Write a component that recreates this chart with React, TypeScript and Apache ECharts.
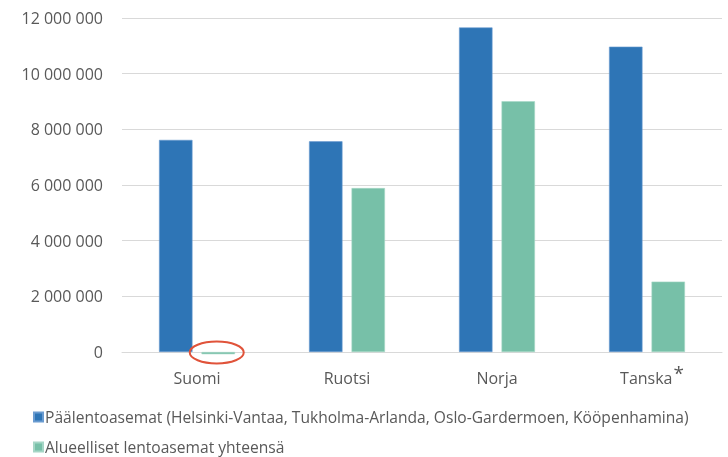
import React, { useEffect, useRef } from "react";
import * as echarts from "echarts";

const categories = ["Suomi", "Ruotsi", "Norja", "Tanska"];
const mainAirports = [7620000, 7570000, 11660000, 10970000];
const regionalAirports = [-80000, 5890000, 9010000, 2530000];
const seriesNames = [
  "Päälentoasemat (Helsinki-Vantaa, Tukholma-Arlanda, Oslo-Gardermoen, Kööpenhamina)",
  "Alueelliset lentoasemat yhteensä",
];
const yTicks = [0, 2000000, 4000000, 6000000, 8000000, 10000000, 12000000];

const FONT = "'Open Sans', 'Noto Sans', sans-serif";
const TEXT = "#595959";

const legendBase = {
  orient: "horizontal",
  left: 28,
  itemWidth: 9,
  itemHeight: 9,
  icon: "rect",
  textStyle: { color: TEXT, fontSize: 15.6, fontFamily: FONT, lineHeight: 18, padding: [0, 0, 0, -3] },
};

export default function App() {
  const ref = useRef<HTMLDivElement>(null);
  useEffect(() => {
    if (!ref.current) return;
    const chart = echarts.init(ref.current, null, { renderer: "svg" });
    chart.setOption({
      animation: false,
      textStyle: { fontFamily: FONT },
      grid: { left: 122, right: 6, top: 18, bottom: 105 },
      legend: [
        { ...legendBase, top: 403, data: [seriesNames[0]] },
        { ...legendBase, top: 433, data: [seriesNames[1]] },
      ],
      xAxis: {
        type: "category",
        data: categories,
        axisLine: { lineStyle: { color: "#d9d9d9", width: 1 } },
        axisTick: { show: false },
        axisLabel: {
          interval: 0,
          color: TEXT,
          fontSize: 16,
          fontFamily: FONT,
          lineHeight: 26,
          margin: 13,
          formatter: (v: string) => (v === "Tanska" ? "{pad|}" + v + "{sup|*}" : v),
          rich: {
            pad: { width: 10, lineHeight: 26 },
            sup: {
              fontSize: 19,
              lineHeight: 16,
              color: TEXT,
              fontFamily: FONT,
              padding: [0, 0, 10, 1],
            },
          },
        },
      },
      yAxis: {
        type: "value",
        min: yTicks[0],
        max: yTicks[yTicks.length - 1],
        interval: 2000000,
        axisLine: { show: false },
        axisTick: { show: false },
        splitLine: { lineStyle: { color: "#d9d9d9", width: 1 } },
        axisLabel: {
          color: TEXT,
          fontSize: 16,
          fontFamily: FONT,
          margin: 19,
          formatter: (v: number) =>
            String(Math.round(v)).replace(/\B(?=(\d{3})+(?!\d))/g, " "),
        },
      },
      series: [
        {
          name: seriesNames[0],
          type: "bar",
          data: mainAirports,
          barWidth: "22.3%",
          barGap: "27%",
          itemStyle: { color: "#2E75B6", borderColor: "#6a9bd0", borderWidth: 0.6 },
        },
        {
          name: seriesNames[1],
          type: "bar",
          data: regionalAirports,
          barWidth: "22.3%",
          clip: false,
          z: 3,
          itemStyle: { color: "#77C0A8", borderColor: "#a6d6c6", borderWidth: 0.6 },
        },
      ],
    });

    try {
      const data = (chart as any).getModel().getSeriesByIndex(1).getData();
      const lay = data.getItemLayout(0);
      const cx = lay.x + lay.width / 2 - 1.5;
      const zeroY = chart.convertToPixel({ yAxisIndex: 0 }, 0) as number;
      chart.setOption({
        graphic: [
          {
            type: "ellipse",
            shape: { cx, cy: zeroY + 0.5, rx: 27, ry: 11 },
            style: { fill: "none", stroke: "#E0533A", lineWidth: 2 },
            z: 100,
          },
        ],
      });
    } catch (e) {
      // ignore
    }

    return () => chart.dispose();
  }, []);
  return (
    <div
      ref={ref}
      style={{ position: "fixed", left: 0, top: 0, width: 728, height: 457 }}
    />
  );
}
